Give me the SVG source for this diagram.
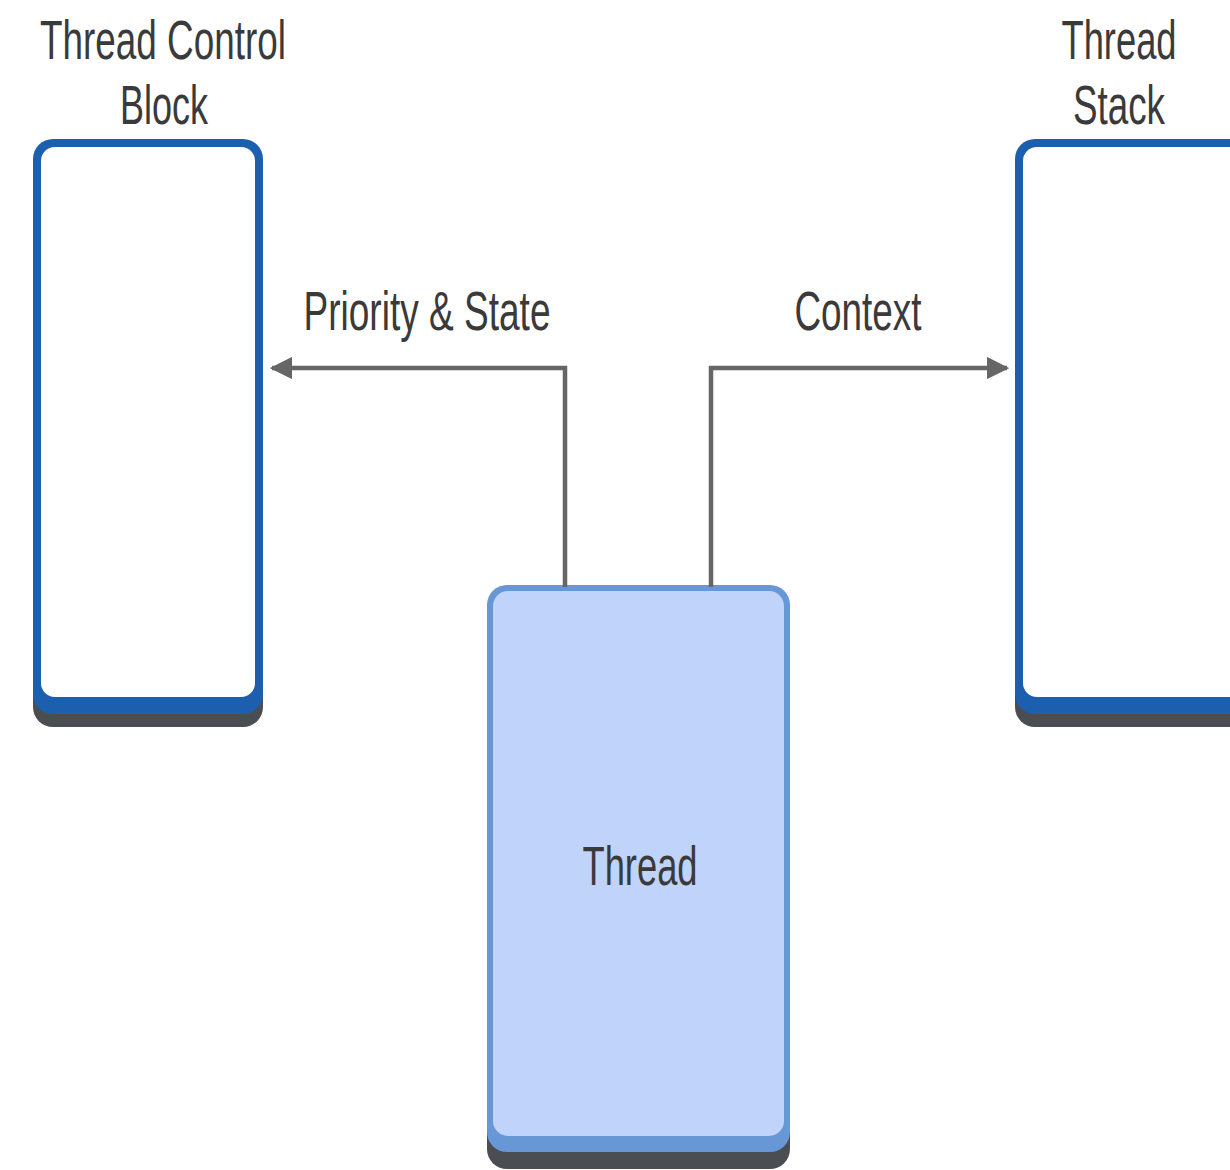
<svg xmlns="http://www.w3.org/2000/svg" width="1230" height="1170" viewBox="0 0 1230 1170">
  <defs>
    <style>
      .label { font-family: "Liberation Sans", Arial, sans-serif; font-size: 56px; fill: #3a3a3a; text-anchor: middle; }
      .shadow { fill: #4a4d52; }
      .frame { fill: #1c5fae; }
      .inner { fill: #ffffff; }
      .tframe { fill: #6797d4; }
      .tinner { fill: #c0d4fb; }
      .conn { fill: none; stroke: #666666; stroke-width: 4.5; stroke-linejoin: miter; }
    </style>
    <marker id="arrow" viewBox="0 0 10 10" refX="9" refY="5" markerWidth="5" markerHeight="5" orient="auto" markerUnits="strokeWidth">
      <path d="M0,0 L10,5 L0,10 Z" fill="#666666"/>
    </marker>
  </defs>
  <rect width="1230" height="1170" fill="#ffffff"/>

  <!-- Thread Control Block -->
  <g id="tcb">
    <rect class="shadow" x="33" y="152" width="230" height="575" rx="20"/>
    <rect class="frame" x="33" y="139" width="230" height="575" rx="20"/>
    <rect class="inner" x="41" y="147" width="214" height="550" rx="14"/>
    <text class="label" x="163" y="59" textLength="246" lengthAdjust="spacingAndGlyphs">Thread Control</text>
    <text class="label" x="164" y="124" textLength="88" lengthAdjust="spacingAndGlyphs">Block</text>
  </g>

  <!-- Thread Stack -->
  <g id="stack">
    <rect class="shadow" x="1015" y="152" width="240" height="575" rx="20"/>
    <rect class="frame" x="1015" y="139" width="240" height="575" rx="20"/>
    <rect class="inner" x="1023" y="147" width="224" height="550" rx="14"/>
    <text class="label" x="1119" y="59" textLength="115" lengthAdjust="spacingAndGlyphs">Thread</text>
    <text class="label" x="1119" y="124" textLength="92" lengthAdjust="spacingAndGlyphs">Stack</text>
  </g>

  <!-- Thread -->
  <g id="thread">
    <rect class="shadow" x="487" y="598" width="303" height="571" rx="20"/>
    <rect class="tframe" x="487" y="585" width="303" height="567" rx="20"/>
    <rect class="tinner" x="493" y="591" width="291" height="545" rx="15"/>
    <text class="label" x="640" y="885" textLength="115" lengthAdjust="spacingAndGlyphs">Thread</text>
  </g>

  <!-- Connectors -->
  <g id="connectors">
    <path class="conn" d="M565,587 L565,368 L272,368" marker-end="url(#arrow)"/>
    <path class="conn" d="M711,587 L711,368 L1007,368" marker-end="url(#arrow)"/>
    <text class="label" x="427" y="330" textLength="247" lengthAdjust="spacingAndGlyphs">Priority &amp; State</text>
    <text class="label" x="858" y="330" textLength="127" lengthAdjust="spacingAndGlyphs">Context</text>
  </g>
</svg>
